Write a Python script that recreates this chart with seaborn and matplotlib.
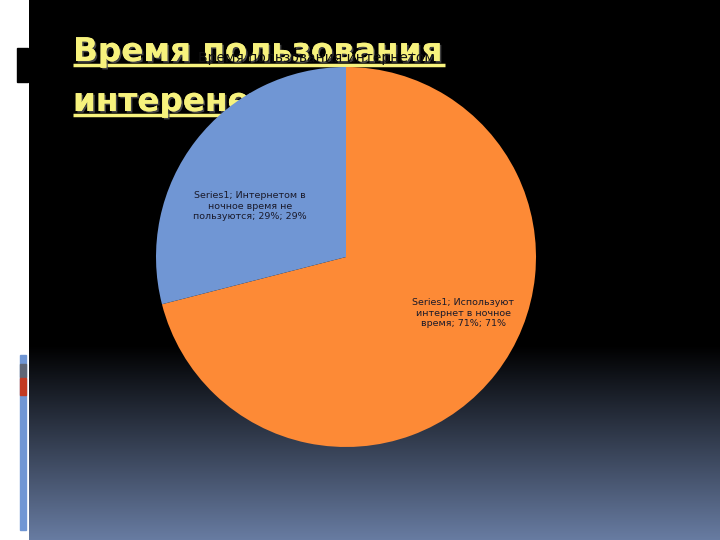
import matplotlib
matplotlib.use("Agg")
import matplotlib.pyplot as plt
import matplotlib.patheffects as pe
from matplotlib.patches import Rectangle
import seaborn as sns
import numpy as np

# data
series_name = "Series1"
categories = ["Используют\nинтернет в ночное\nвремя", "Интернетом в\nночное время не\nпользуются"]
values = [71, 29]
colors = ["#fd8a36", "#7096d4"]
slide_title = ["Время пользования", "интеренетом"]
chart_title = "Время пользования интернетом"

sns.set_theme(style="dark")
plt.rcParams['font.family'] = ['DejaVu Sans']

fig = plt.figure(figsize=(7.2, 5.4), dpi=100)
fig.patch.set_facecolor("white")

# slide background
bg = fig.add_axes([0, 0, 1, 1])
bg.axis("off")
rows = np.arange(540)
t = np.clip((rows - 345) / 195.0, 0, 1)
top = np.array([0, 0, 0])
bottom = np.array([104, 124, 162])
img = (top[None, :] * (1 - t[:, None]) + bottom[None, :] * t[:, None]) / 255.0
img = img[:, None, :]
bg.imshow(img, extent=[29, 720, 540, 0], aspect="auto", interpolation="bilinear")
bg.add_patch(Rectangle((17, 48), 11, 34, color="black"))
bg.add_patch(Rectangle((20, 355), 6, 175, color="#7096d4"))
bg.add_patch(Rectangle((20, 364), 6, 13, color="#5f6676"))
bg.add_patch(Rectangle((20, 378), 6, 17, color="#c23a22"))
bg.set_xlim(0, 720)
bg.set_ylim(540, 0)

# slide title
shadow = [pe.withSimplePatchShadow(offset=(1.2, -1.2), shadow_rgbFace="#555555", alpha=0.8), pe.Normal()]
for txt, base in zip(slide_title, [61, 111]):
    bg.text(73, base, txt, fontsize=23.5, fontweight="bold", color="#f7f27d",
            va="baseline", ha="left", path_effects=shadow)
bg.plot([73, 445], [65, 65], color="#f7f27d", lw=2.5, solid_capstyle="butt")
bg.plot([73, 260], [115, 115], color="#f7f27d", lw=2.5, solid_capstyle="butt")

# pie
ax = fig.add_axes([(346 - 190) / 720, (540 - 257 - 190) / 540, 380 / 720, 380 / 540])
ax.patch.set_alpha(0)
wedges, _ = ax.pie(values, colors=colors, startangle=90, counterclock=False,
                   radius=1, wedgeprops=dict(linewidth=0))
ax.set_xlim(-1, 1)
ax.set_ylim(-1, 1)

label_pos = [(0.616, -0.295), (-0.505, 0.268)]
for cat, v, (lx, ly) in zip(categories, values, label_pos):
    lines = cat.split("\n")
    lines[0] = series_name + "; " + lines[0]
    lines[-1] = lines[-1] + "; %d%%; %d%%" % (v, v)
    ax.text(lx, ly, "\n".join(lines), ha="center", va="center", fontsize=6.8,
            color="#1a1a2a", linespacing=1.25)

fig.text(316 / 720, 1 - 58 / 540, chart_title, ha="center", va="center",
         fontsize=10, color="#111111")

fig.savefig("out.png", dpi=100)
